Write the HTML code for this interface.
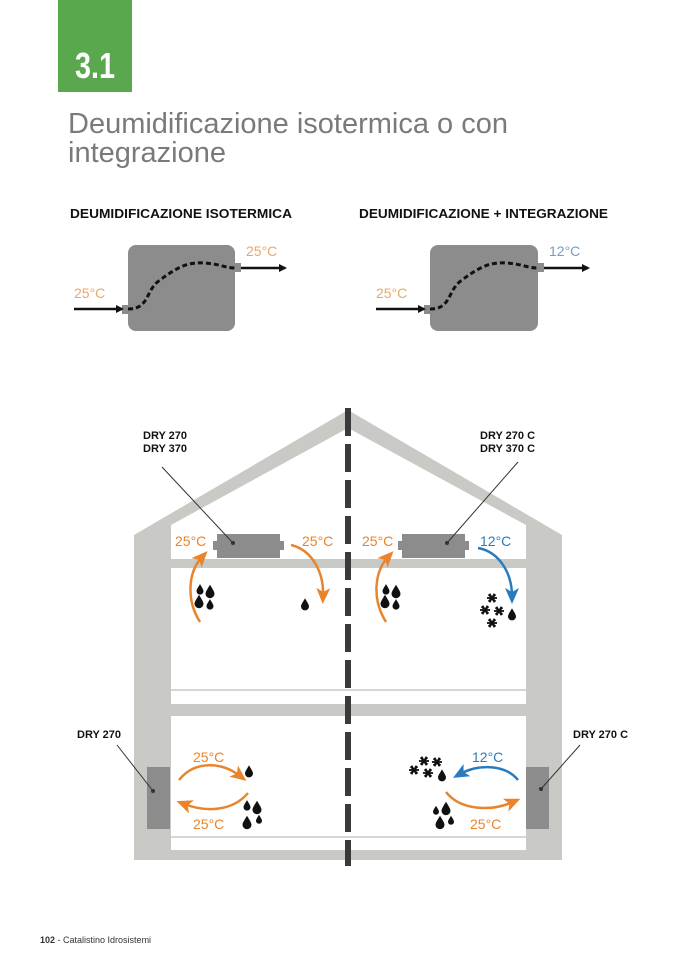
<!DOCTYPE html>
<html><head><meta charset="utf-8"><style>
html,body{margin:0;padding:0;background:#fff;}
svg{display:block;font-family:"Liberation Sans",sans-serif;}
</style></head><body>
<svg width="697" height="978" viewBox="0 0 697 978" xmlns="http://www.w3.org/2000/svg">
<defs>
<marker id="ab" markerWidth="8" markerHeight="8" refX="6" refY="4" orient="auto" markerUnits="userSpaceOnUse"><path d="M0,0 L8,4 L0,8 z" fill="#111"/></marker>
<marker id="ao" markerWidth="16" markerHeight="16" refX="8" refY="8" orient="auto" markerUnits="userSpaceOnUse"><path d="M0,1 L16,8 L0,15 L4,8 z" fill="#e9842c"/></marker>
<marker id="abl" markerWidth="16" markerHeight="16" refX="8" refY="8" orient="auto" markerUnits="userSpaceOnUse"><path d="M0,1 L16,8 L0,15 L4,8 z" fill="#2a7bbd"/></marker>
<g id="drop"><path d="M0,-7 C3,-2 5,1 5,3 A5,5 0 0 1 -5,3 C-5,1 -3,-2 0,-7 z" fill="#111"/></g>
<g id="flake" stroke="#111" stroke-width="1.8"><line x1="-5" y1="0" x2="5" y2="0"/><line x1="-2.5" y1="-4.3" x2="2.5" y2="4.3"/><line x1="2.5" y1="-4.3" x2="-2.5" y2="4.3"/><line x1="-3.5" y1="-3.5" x2="3.5" y2="3.5"/><line x1="3.5" y1="-3.5" x2="-3.5" y2="3.5"/></g>
</defs>
<rect x="58" y="0" width="74" height="92" fill="#5aa84e"/>
<text x="95" y="78" fill="#fff" font-size="36" font-weight="bold" text-anchor="middle" textLength="40" lengthAdjust="spacingAndGlyphs">3.1</text>
<text x="68" y="133" fill="#7a7a7a" font-size="29" textLength="440" lengthAdjust="spacingAndGlyphs">Deumidificazione isotermica o con</text>
<text x="68" y="162" fill="#7a7a7a" font-size="29" textLength="158" lengthAdjust="spacingAndGlyphs">integrazione</text>

<text x="70" y="218" font-size="13" font-weight="bold" fill="#111" textLength="222" lengthAdjust="spacingAndGlyphs">DEUMIDIFICAZIONE ISOTERMICA</text>
<text x="359" y="218" font-size="13" font-weight="bold" fill="#111" textLength="249" lengthAdjust="spacingAndGlyphs">DEUMIDIFICAZIONE + INTEGRAZIONE</text>

<!-- left unit diagram -->
<rect x="128" y="245" width="107" height="86" rx="8" fill="#8c8c8c"/>
<rect x="122" y="305" width="7" height="9" fill="#8c8c8c"/><rect x="234" y="263" width="7" height="9" fill="#8c8c8c"/>
<line x1="74" y1="309" x2="122" y2="309" stroke="#111" stroke-width="2.5" marker-end="url(#ab)"/>
<line x1="241" y1="268" x2="285" y2="268" stroke="#111" stroke-width="2.5" marker-end="url(#ab)"/>
<path d="M128,309 C150,309 145,290 160,280 C180,265 190,262 205,263 C220,264 225,268 235,268" fill="none" stroke="#111" stroke-width="3" stroke-dasharray="5,3"/>
<text x="74" y="298" fill="#e8a86a" font-size="14">25°C</text>
<text x="246" y="256" fill="#e8a86a" font-size="14">25°C</text>
<!-- right unit diagram -->
<rect x="430" y="245" width="108" height="86" rx="8" fill="#8c8c8c"/>
<rect x="424" y="305" width="7" height="9" fill="#8c8c8c"/><rect x="537" y="263" width="7" height="9" fill="#8c8c8c"/>
<line x1="376" y1="309" x2="424" y2="309" stroke="#111" stroke-width="2.5" marker-end="url(#ab)"/>
<line x1="544" y1="268" x2="588" y2="268" stroke="#111" stroke-width="2.5" marker-end="url(#ab)"/>
<path d="M430,309 C452,309 447,290 462,280 C482,265 492,262 507,263 C522,264 527,268 538,268" fill="none" stroke="#111" stroke-width="3" stroke-dasharray="5,3"/>
<text x="376" y="298" fill="#e8a86a" font-size="14">25°C</text>
<text x="549" y="256" fill="#7a9cc0" font-size="14">12°C</text>

<!-- house -->
<path d="M134,535 L348,410 L562,535 L562,860 L134,860 z" fill="#c9c9c5"/>
<path d="M171,525 L348,428 L526,525 z" fill="#fff"/>
<rect x="171" y="525" width="355" height="34" fill="#fff"/>
<rect x="171" y="568" width="355" height="136" fill="#fff"/>
<line x1="171" y1="690" x2="526" y2="690" stroke="#c9c9c5" stroke-width="1.5"/>
<rect x="171" y="716" width="355" height="134" fill="#fff"/>
<line x1="171" y1="837" x2="526" y2="837" stroke="#c9c9c5" stroke-width="1.5"/>
<line x1="348" y1="408" x2="348" y2="866" stroke="#3a3a3a" stroke-width="6" stroke-dasharray="28,8"/>

<!-- attic units -->
<rect x="217" y="534" width="63" height="24" fill="#8c8c8c"/><rect x="213" y="541" width="5" height="9" fill="#8c8c8c"/><rect x="279" y="541" width="5" height="9" fill="#8c8c8c"/>
<rect x="402" y="534" width="63" height="24" fill="#8c8c8c"/><rect x="398" y="541" width="5" height="9" fill="#8c8c8c"/><rect x="464" y="541" width="5" height="9" fill="#8c8c8c"/>
<line x1="162" y1="467" x2="233" y2="543" stroke="#333" stroke-width="1"/><circle cx="233" cy="543" r="2" fill="#333"/>
<line x1="518" y1="462" x2="447" y2="543" stroke="#333" stroke-width="1"/><circle cx="447" cy="543" r="2" fill="#333"/>
<text x="143" y="439" font-size="11" font-weight="bold" fill="#111">DRY 270</text>
<text x="143" y="452" font-size="11" font-weight="bold" fill="#111">DRY 370</text>
<text x="480" y="439" font-size="11" font-weight="bold" fill="#111">DRY 270 C</text>
<text x="480" y="452" font-size="11" font-weight="bold" fill="#111">DRY 370 C</text>

<text x="175" y="546" fill="#e9842c" font-size="14">25°C</text>
<text x="302" y="546" fill="#e9842c" font-size="14">25°C</text>
<text x="362" y="546" fill="#e9842c" font-size="14">25°C</text>
<text x="480" y="546" fill="#2a7bbd" font-size="14">12°C</text>

<path d="M200,622 C186,600 188,572 202,557" fill="none" stroke="#e9842c" stroke-width="2.5" marker-end="url(#ao)"/>
<path d="M291,545 C312,550 324,572 323,596" fill="none" stroke="#e9842c" stroke-width="2.5" marker-end="url(#ao)"/>
<path d="M386,622 C372,600 374,572 388,557" fill="none" stroke="#e9842c" stroke-width="2.5" marker-end="url(#ao)"/>
<path d="M478,548 C500,552 512,574 512,596" fill="none" stroke="#2a7bbd" stroke-width="2.5" marker-end="url(#abl)"/>

<use href="#drop" transform="translate(200,589) scale(0.7)"/><use href="#drop" transform="translate(210,591) scale(0.9)"/><use href="#drop" transform="translate(199,601) scale(0.9)"/><use href="#drop" transform="translate(210,604) scale(0.7)"/>
<use href="#drop" transform="translate(305,604) scale(0.8)"/>
<use href="#drop" transform="translate(386,589) scale(0.7)"/><use href="#drop" transform="translate(396,591) scale(0.9)"/><use href="#drop" transform="translate(385,601) scale(0.9)"/><use href="#drop" transform="translate(396,604) scale(0.7)"/>
<use href="#flake" transform="translate(492,598)"/><use href="#flake" transform="translate(485,610)"/><use href="#flake" transform="translate(499,611)"/><use href="#flake" transform="translate(492,623)"/><use href="#drop" transform="translate(512,614) scale(0.8)"/>

<!-- ground floor -->
<rect x="147" y="767" width="23" height="62" fill="#8c8c8c"/>
<rect x="526" y="767" width="23" height="62" fill="#8c8c8c"/>
<line x1="117" y1="745" x2="153" y2="791" stroke="#333" stroke-width="1"/><circle cx="153" cy="791" r="2" fill="#333"/>
<line x1="580" y1="745" x2="541" y2="789" stroke="#333" stroke-width="1"/><circle cx="541" cy="789" r="2" fill="#333"/>
<text x="77" y="738" font-size="11" font-weight="bold" fill="#111">DRY 270</text>
<text x="573" y="738" font-size="11" font-weight="bold" fill="#111">DRY 270 C</text>

<text x="193" y="762" fill="#e9842c" font-size="14">25°C</text>
<text x="193" y="829" fill="#e9842c" font-size="14">25°C</text>
<text x="472" y="762" fill="#2a7bbd" font-size="14">12°C</text>
<text x="470" y="829" fill="#e9842c" font-size="14">25°C</text>
<path d="M179,780 C195,760 222,762 240,776" fill="none" stroke="#e9842c" stroke-width="2.5" marker-end="url(#ao)"/>
<path d="M248,793 C232,812 205,812 184,804" fill="none" stroke="#e9842c" stroke-width="2.5" marker-end="url(#ao)"/>
<path d="M518,780 C505,764 478,764 460,774" fill="none" stroke="#2a7bbd" stroke-width="2.5" marker-end="url(#abl)"/>
<path d="M446,792 C460,810 490,812 513,802" fill="none" stroke="#e9842c" stroke-width="2.5" marker-end="url(#ao)"/>
<use href="#drop" transform="translate(249,771) scale(0.8)"/>
<use href="#drop" transform="translate(247,805) scale(0.7)"/><use href="#drop" transform="translate(257,807) scale(0.9)"/><use href="#drop" transform="translate(247,822) scale(0.9)"/><use href="#drop" transform="translate(259,819) scale(0.6)"/>
<use href="#flake" transform="translate(424,761)"/><use href="#flake" transform="translate(437,762)"/><use href="#flake" transform="translate(414,770)"/><use href="#flake" transform="translate(428,773)"/><use href="#drop" transform="translate(442,775) scale(0.8)"/>
<use href="#drop" transform="translate(436,810) scale(0.6)"/><use href="#drop" transform="translate(446,808) scale(0.9)"/><use href="#drop" transform="translate(440,822) scale(0.9)"/><use href="#drop" transform="translate(451,820) scale(0.6)"/>

<text x="40" y="943" font-size="9" fill="#333"><tspan font-weight="bold">102</tspan> - Catalistino Idrosistemi</text>
</svg>
</body></html>
